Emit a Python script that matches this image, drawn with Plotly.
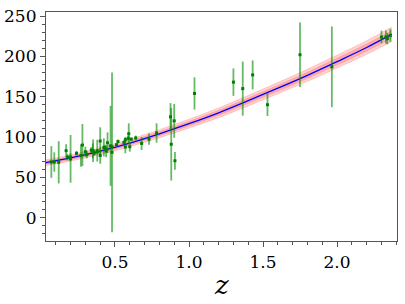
import plotly.graph_objects as go

z_obs = [0.07, 0.09, 0.12, 0.17, 0.179, 0.199, 0.2, 0.24, 0.27, 0.28, 0.30, 0.31,
         0.34, 0.35, 0.352, 0.36, 0.38, 0.3802, 0.40, 0.4004, 0.4247, 0.43, 0.44,
         0.44, 0.4497, 0.47, 0.48, 0.48, 0.51, 0.52, 0.56, 0.57, 0.57, 0.59, 0.593,
         0.60, 0.61, 0.64, 0.68, 0.73, 0.781, 0.875, 0.88, 0.90, 0.905, 1.037, 1.30,
         1.363, 1.43, 1.53, 1.75, 1.965, 2.30, 2.33, 2.34, 2.36]
H_obs = [69.0, 69.0, 68.6, 83.0, 75.0, 75.0, 72.9, 79.7, 77.0, 90.0, 81.7, 78.2,
         83.8, 82.7, 83.0, 79.9, 81.5, 83.0, 95.0, 77.0, 87.1, 86.5, 82.6,
         84.8, 92.8, 89.0, 81.0, 87.8, 90.4, 94.4, 93.3, 87.6, 96.8, 98.5, 104.0,
         87.9, 97.3, 98.8, 92.0, 97.3, 105.0, 125.0, 91.0, 120.0, 70.5, 154.0, 168.0,
         160.0, 177.0, 140.0, 202.0, 187.0, 224.0, 224.0, 222.0, 226.0]
H_err = [19.6, 12.0, 26.2, 8.0, 4.0, 5.0, 29.6, 3.0, 14.0, 26.0, 6.2, 4.7,
         3.7, 9.1, 14.0, 3.4, 1.9, 13.5, 17.0, 10.2, 11.2, 3.7, 7.8,
         1.8, 12.9, 49.6, 99.0, 2.0, 1.9, 2.6, 2.3, 7.8, 3.4, 3.2, 13.0,
         6.1, 2.1, 3.0, 8.0, 7.0, 12.0, 17.0, 45.0, 21.0, 11.0, 20.0, 17.0,
         33.6, 18.0, 14.0, 40.0, 50.0, 8.0, 8.0, 7.0, 8.0]

# Best-fit curve and its band, read at sample redshifts
z_fit = [0.03, 0.2, 0.4, 0.6, 0.8, 1.0, 1.2, 1.4, 1.6, 1.8, 2.0, 2.2, 2.37]
H_fit = [68.0, 74.0, 82.5, 92.5, 104.0, 116.5, 130.0, 145.0, 160.5, 176.5, 193.5, 211.0, 227.5]
band_outer = [3.5, 3.8, 4.2, 4.6, 5.0, 5.5, 6.0, 6.5, 7.0, 7.5, 8.0, 8.5, 9.0]
band_inner = [1.8, 1.9, 2.1, 2.3, 2.5, 2.8, 3.0, 3.3, 3.5, 3.8, 4.0, 4.3, 4.5]

x_label = "z"

SERIF = "'DejaVu Serif', serif"

fig = go.Figure()

for half, col in [(band_outer, "rgba(255,90,90,0.28)"), (band_inner, "rgba(255,60,60,0.25)")]:
    lo = [h - d for h, d in zip(H_fit, half)]
    hi = [h + d for h, d in zip(H_fit, half)]
    fig.add_trace(go.Scatter(x=z_fit, y=lo, mode="lines", line=dict(width=0.6, color="rgba(255,80,80,0.4)", shape="spline"),
                             hoverinfo="skip", showlegend=False))
    fig.add_trace(go.Scatter(x=z_fit, y=hi, mode="lines", fill="tonexty", fillcolor=col,
                             line=dict(width=0.6, color="rgba(255,80,80,0.4)", shape="spline"),
                             hoverinfo="skip", showlegend=False))

fig.add_trace(go.Scatter(x=z_fit, y=H_fit, mode="lines", line=dict(color="blue", width=1.3, shape="spline"),
                         showlegend=False))

fig.add_trace(go.Scatter(
    x=z_obs, y=H_obs, mode="markers",
    marker=dict(color="green", size=3, symbol="square"),
    error_y=dict(type="data", array=H_err, visible=True, color="rgba(0,140,0,0.6)", thickness=1.8, width=0),
    showlegend=False))

fig.update_layout(
    width=405, height=304,
    margin=dict(l=46, r=8, t=12, b=63),
    paper_bgcolor="white", plot_bgcolor="white",
    font=dict(family=SERIF, size=17, color="black"),
    showlegend=False,
)
fig.add_annotation(
    text="<i>" + x_label + "</i>", xref="paper", yref="paper", x=0.5, y=-0.19,
    xanchor="center", yanchor="middle", showarrow=False,
    font=dict(size=26, family=SERIF, color="black"),
)
fig.update_xaxes(
    range=[0.034, 2.405], showgrid=False, zeroline=False, automargin=False,
    showline=True, linecolor="#555", linewidth=1.2, mirror=True,
    ticks="outside", ticklen=5, tickcolor="#555", tickwidth=1,
    tickvals=[0.5, 1.0, 1.5, 2.0], ticktext=["0.5", "1.0", "1.5", "2.0"],
    minor=dict(ticks="outside", ticklen=3, dtick=0.1, tick0=0, tickcolor="#555", showgrid=False),
)
fig.update_yaxes(
    range=[-29, 255], showgrid=False, zeroline=False, automargin=False,
    showline=True, linecolor="#555", linewidth=1.2, mirror=True,
    ticks="outside", ticklen=5, tickcolor="#555", tickwidth=1,
    tickvals=[0, 50, 100, 150, 200, 250],
    minor=dict(ticks="outside", ticklen=3, dtick=10, tick0=0, tickcolor="#555", showgrid=False),
)

fig.write_html("out.html", config={"displayModeBar": False},
               post_script="document.body.style.margin='0';")
